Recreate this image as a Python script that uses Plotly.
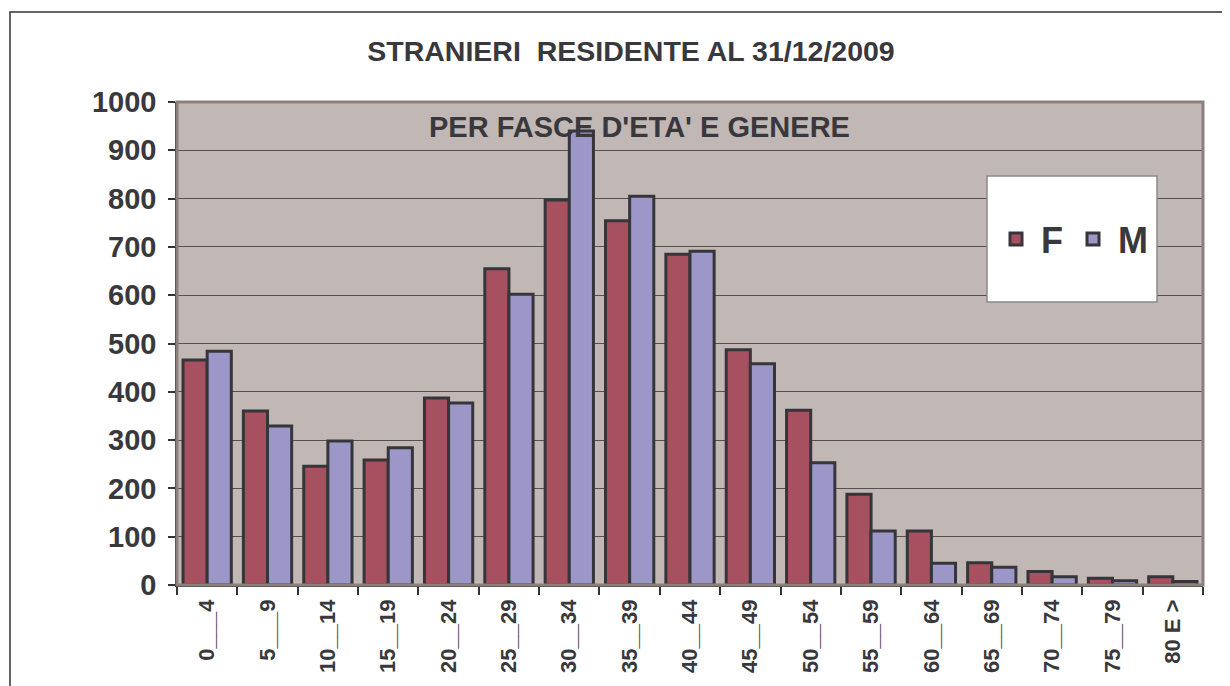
import plotly.graph_objects as go

categories = ["0___4", "5___9", "10__14", "15__19", "20__24", "25__29", "30__34",
              "35__39", "40__44", "45__49", "50__54", "55__59", "60__64", "65__69",
              "70__74", "75__79", "80 E >"]
femmine = [466, 360, 246, 259, 387, 655, 797, 754, 685, 487, 362, 188, 112, 46, 28, 14, 17]
maschi = [484, 329, 298, 284, 377, 602, 940, 805, 691, 458, 253, 112, 45, 37, 17, 9, 7]
y_ticks = list(range(0, 1001, 100))

TXT = "#38383d"
FONT = "Liberation Sans, Arial, sans-serif"

# page body has an 8px margin: target pixel positions are shifted by -8
OFF = 8
PL, PR, PT, PB = 177 - OFF, 1203 - OFF, 102 - OFF, 585 - OFF
W, H = 1230, 686
PW, PH = PR - PL, PB - PT


def px(x):
    return (x - OFF - PL) / PW


def py(y):
    return (PB - (y - OFF)) / PH


fig = go.Figure()
fig.add_trace(go.Bar(name="F", x=categories, y=femmine,
                     marker=dict(color="#A7505F", line=dict(color="#35353a", width=3))))
fig.add_trace(go.Bar(name="M", x=categories, y=maschi,
                     marker=dict(color="#9D97C9", line=dict(color="#35353a", width=3))))

fig.update_layout(
    width=W, height=H,
    margin=dict(l=PL, r=W - PR, t=PT, b=H - PB, autoexpand=False),
    paper_bgcolor="white", plot_bgcolor="#C1B8B5",
    bargap=0.2, bargroupgap=0,
    font=dict(family=FONT, color=TXT),
    title=dict(text="STRANIERI  RESIDENTE AL 31/12/2009", x=(631 - OFF) / W, xanchor="center",
               y=1 - (51 - OFF) / H, yanchor="middle",
               font=dict(size=28.5, color=TXT, family=FONT, weight="bold")),
    showlegend=True,
    legend=dict(orientation="h", x=px(1072), xanchor="center", y=py(239), yanchor="middle",
                bgcolor="rgba(0,0,0,0)", font=dict(size=36, color=TXT, family=FONT, weight="bold"),
                itemwidth=40, traceorder="normal"),
    xaxis=dict(type="category", tickson="boundaries", ticks="outside", ticklen=8,
               tickcolor="#333", tickwidth=1.5, showline=True, linecolor="#333", linewidth=1.5,
               tickangle=-90, ticklabelstandoff=4,
               tickfont=dict(size=22, color=TXT, family=FONT, weight="bold"),
               showgrid=False),
    yaxis=dict(range=[0, 1000], tickvals=y_ticks, ticks="outside", ticklen=7,
               tickcolor="#333", tickwidth=1.5, showline=True, linecolor="#333", linewidth=1.5,
               gridcolor="#57504f", gridwidth=1.2, zeroline=False, ticklabelstandoff=6,
               tickfont=dict(size=29, color=TXT, family=FONT, weight="bold")),
)

shapes = [
    # plot area border
    dict(type="rect", xref="paper", yref="paper", x0=0, x1=1, y0=0, y1=1,
         line=dict(color="#8C807D", width=3), layer="above"),
    # outer chart border
    dict(type="rect", xref="paper", yref="paper", x0=px(10), x1=px(1260),
         y0=py(720), y1=py(12), line=dict(color="#333", width=1.5), layer="below"),
    # legend box
    dict(type="rect", xref="paper", yref="paper", x0=px(987), x1=px(1157),
         y0=py(302), y1=py(176),
         line=dict(color="#8a8a8a", width=1.5), fillcolor="white", layer="above"),
]
fig.update_layout(shapes=shapes)

fig.add_annotation(text="PER FASCE D'ETA' E GENERE", xref="paper", yref="paper",
                   x=px(639), y=py(127), xanchor="center", yanchor="middle",
                   showarrow=False, font=dict(size=29, color=TXT, family=FONT, weight="bold"))

fig.write_html("out.html")
